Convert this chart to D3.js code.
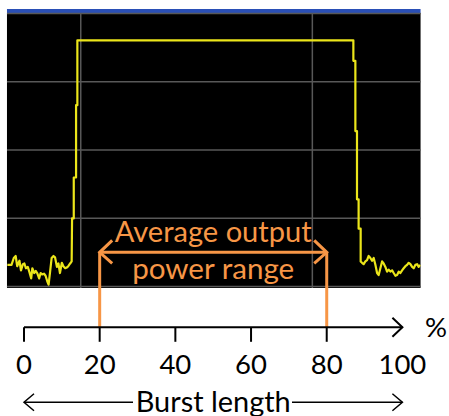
<!DOCTYPE html>
<meta charset="utf-8">
<style>
body { margin: 0; background: #fff; }
text { font-family: Lato, "Open Sans", sans-serif; }
.grid { stroke: #585858; stroke-width: 1.5px; }
.trace { fill: none; stroke: #ebe51a; stroke-width: 2.2px; stroke-linejoin: round; }
</style>
<body>
<script src="https://d3js.org/d3.v7.min.js"></script>
<script>

// burst trace: time in % of burst length, level in dB
var traceTime = [-4.4,-3.3,-2.7,-2.2,-1.8,-1.2,-0.8,-0.3,0.1,0.5,1.0,1.4,1.9,2.2,2.7,3.1,3.5,4.0,
  4.4,4.8,5.3,5.7,6.2,6.5,6.9,7.3,7.8,8.2,8.7,9.1,9.5,10.0,10.4,10.9,11.3,11.7,12.2,12.6,
  12.7,13.15,13.15,13.76,13.76,14.1,14.1,
  87.04,87.04,87.57,87.57,88.0,88.0,88.43,88.43,88.97,88.97,
  89.34,89.76,90.21,90.66,91.08,91.53,91.98,92.41,92.86,93.31,93.73,94.18,94.63,95.05,95.5,
  95.95,96.38,96.83,97.28,97.7,98.15,98.6,99.02,99.47,99.92,100.34,100.79,101.24,101.67,
  102.12,102.57,102.99,103.44,103.89,104.31,104.76];
var traceLevel = [-36.9,-36.9,-35.9,-35.6,-37.1,-36.3,-37.7,-36.8,-36.7,-37.4,-37.2,-37.9,-38.9,-37.4,-38.1,-37.8,-38.1,-38.9,
  -38.1,-38.3,-38.2,-38.5,-39.4,-39.8,-37.9,-35.9,-35.6,-35.8,-37.2,-36.7,-38.1,-36.6,-37.1,-37.4,-37.3,-37.1,-36.7,-36.4,
  -30.1,-30.1,-24.1,-24.1,-13.5,-13.5,-4.0,
  -4.0,-7.0,-7.0,-17.3,-17.3,-27.3,-27.3,-31.6,-31.6,-36.4,
  -36.6,-36.8,-36.4,-36.2,-35.6,-35.9,-36.3,-35.9,-36.9,-38.1,-38.4,-37.4,-36.4,-36.7,-37.2,
  -37.9,-37.6,-37.9,-37.7,-38.1,-38.5,-38.4,-37.9,-38.1,-37.7,-37.4,-37.1,-36.9,-36.6,
  -36.8,-37.2,-37.4,-36.9,-36.8,-37.2,-36.9];

var screenTime = [-4.5, 104.8];          // visible span of the analyser screen
var levelGrid = [0, -10, -20, -30, -40];
var timeGrid = [15, 76.2];
var axisTicks = [0, 20, 40, 60, 80];
var tickLabels = ["0", "20", "40", "60", "80", "100"];
var labelValues = [0, 20, 40, 60, 80, 100];
var rangeMarks = [20, 80];

var width = 449, height = 416;
var orange = "#f79646";

var x = d3.scaleLinear().domain([0, 100]).range([24, 402.4]);
var y = d3.scaleLinear().domain([-40, 0]).range([286, 13]);

var svg = d3.select("body").append("svg")
    .attr("width", width)
    .attr("height", height);

// analyser screen
svg.append("rect")
    .attr("x", x(screenTime[0]))
    .attr("y", y(0))
    .attr("width", x(screenTime[1]) - x(screenTime[0]))
    .attr("height", y(-40) - y(0) + 2)
    .attr("fill", "#000");

svg.append("rect")
    .attr("x", x(screenTime[0]))
    .attr("y", y(0) - 4)
    .attr("width", x(screenTime[1]) - x(screenTime[0]))
    .attr("height", 4)
    .attr("fill", "#2a4fb6");

svg.selectAll(".hgrid").data(levelGrid).enter().append("line")
    .attr("class", "grid")
    .attr("x1", x(screenTime[0])).attr("x2", x(screenTime[1]))
    .attr("y1", function(d) { return y(d) + 0.5; })
    .attr("y2", function(d) { return y(d) + 0.5; });

svg.selectAll(".vgrid").data(timeGrid).enter().append("line")
    .attr("class", "grid")
    .attr("x1", function(d) { return x(d); })
    .attr("x2", function(d) { return x(d); })
    .attr("y1", y(0)).attr("y2", y(-40) + 2);

svg.append("clipPath").attr("id", "screen")
  .append("rect")
    .attr("x", x(screenTime[0]))
    .attr("y", y(0))
    .attr("width", x(screenTime[1]) - x(screenTime[0]))
    .attr("height", y(-40) - y(0));

var line = d3.line()
    .x(function(d, i) { return x(traceTime[i]); })
    .y(function(d) { return y(d); });

svg.append("path")
    .datum(traceLevel)
    .attr("class", "trace")
    .attr("clip-path", "url(#screen)")
    .attr("d", line);

// average output power range annotation
var arrowY = 252.3;
var orangeG = svg.append("g")
    .attr("stroke", orange).attr("stroke-width", 3).attr("fill", "none")
    .attr("stroke-linecap", "butt");
orangeG.append("line")
    .attr("x1", x(rangeMarks[0])).attr("x2", x(rangeMarks[1]))
    .attr("y1", arrowY).attr("y2", arrowY);
orangeG.selectAll(".vmark").data(rangeMarks).enter().append("line")
    .attr("x1", function(d) { return x(d); })
    .attr("x2", function(d) { return x(d); })
    .attr("y1", arrowY).attr("y2", 327);
orangeG.append("path")
    .attr("stroke-linejoin", "miter")
    .attr("d", "M" + (x(rangeMarks[0]) + 12.5) + "," + (arrowY - 12) + "L" + x(rangeMarks[0]) + "," + arrowY +
               "L" + (x(rangeMarks[0]) + 12.5) + "," + (arrowY + 11));
orangeG.append("path")
    .attr("stroke-linejoin", "miter")
    .attr("d", "M" + (x(rangeMarks[1]) - 12.5) + "," + (arrowY - 12) + "L" + x(rangeMarks[1]) + "," + arrowY +
               "L" + (x(rangeMarks[1]) - 12.5) + "," + (arrowY + 11));

svg.append("text")
    .attr("x", x(50)).attr("y", 241.5)
    .attr("text-anchor", "middle")
    .attr("fill", orange)
    .attr("font-size", 28.5)
    .attr("textLength", 197).attr("lengthAdjust", "spacingAndGlyphs")
    .text("Average output");
svg.append("text")
    .attr("x", x(50)).attr("y", 279)
    .attr("text-anchor", "middle")
    .attr("fill", orange)
    .attr("font-size", 28.5)
    .attr("textLength", 162).attr("lengthAdjust", "spacingAndGlyphs")
    .text("power range");

// percent axis
var axisY = 327.3;
var axisG = svg.append("g")
    .attr("stroke", "#000").attr("stroke-width", 2).attr("fill", "none");
axisG.append("line")
    .attr("x1", x(0)).attr("x2", x(100)).attr("y1", axisY).attr("y2", axisY);
axisG.append("path")
    .attr("d", "M" + (x(100) - 10) + "," + (axisY - 9.5) + "L" + x(100) + "," + axisY +
               "L" + (x(100) - 10) + "," + (axisY + 9.5));
axisG.selectAll(".tick").data(axisTicks).enter().append("line")
    .attr("x1", function(d) { return x(d); })
    .attr("x2", function(d) { return x(d); })
    .attr("y1", axisY).attr("y2", axisY + 14.5);

svg.selectAll(".lbl").data(labelValues).enter().append("text")
    .attr("x", function(d) { return x(d); })
    .attr("y", 374)
    .attr("text-anchor", "middle")
    .attr("font-size", 27.5)
    .attr("fill", "#000")
    .text(function(d, i) { return tickLabels[i]; });

svg.append("text")
    .attr("x", 436).attr("y", 337)
    .attr("text-anchor", "middle")
    .attr("font-size", 27.5)
    .text("%");

// burst length arrow
var burstY = 402.3;
var burstG = svg.append("g")
    .attr("stroke", "#000").attr("stroke-width", 1.5).attr("fill", "none");
burstG.append("line").attr("x1", x(0)).attr("x2", 133).attr("y1", burstY).attr("y2", burstY);
burstG.append("line").attr("x1", 292).attr("x2", x(100)).attr("y1", burstY).attr("y2", burstY);
burstG.append("path")
    .attr("d", "M" + (x(0) + 10) + "," + (burstY - 8.5) + "L" + x(0) + "," + burstY +
               "L" + (x(0) + 10) + "," + (burstY + 8.5));
burstG.append("path")
    .attr("d", "M" + (x(100) - 10) + "," + (burstY - 8.5) + "L" + x(100) + "," + burstY +
               "L" + (x(100) - 10) + "," + (burstY + 8.5));

svg.append("text")
    .attr("x", x(50)).attr("y", 412)
    .attr("text-anchor", "middle")
    .attr("font-size", 28)
    .attr("textLength", 155).attr("lengthAdjust", "spacingAndGlyphs")
    .text("Burst length");

</script>
</body>
